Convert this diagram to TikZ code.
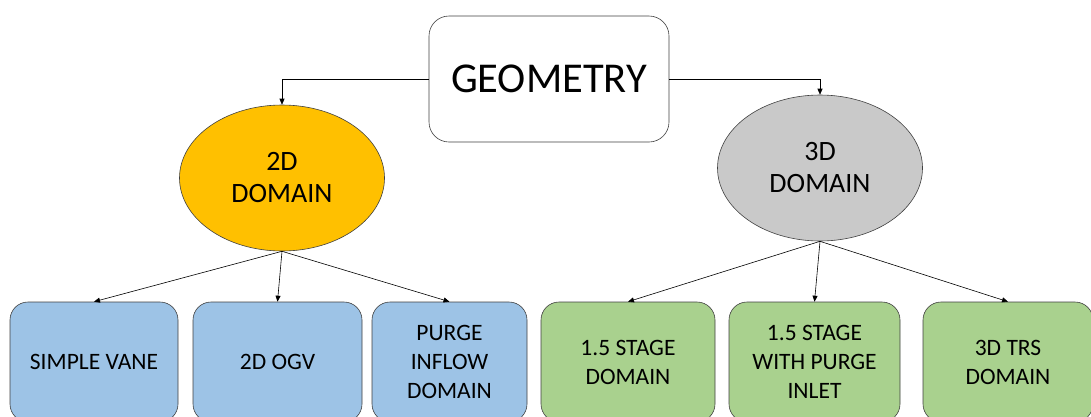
\documentclass[tikz,border=0pt]{standalone}
\usepackage{fontspec}
\setmainfont{Carlito}
\usetikzlibrary{shapes.geometric, arrows.meta}

\begin{document}
\begin{tikzpicture}[
    x = 1pt, y = -1pt,
    line width = 0.6pt,
    >={Triangle[length=6pt, width=5pt]},
    %
    root/.style = {draw = black!75, fill = white,
      rounded corners = 20pt,
      font = \fontsize{42.5}{48}\selectfont,
      minimum width = 240pt, minimum height = 126pt},
    %
    region/.style = {ellipse, draw = black!75, inner sep = 0pt,
      align = center,
      font = \fontsize{28}{32}\selectfont,
      minimum width = 205pt, minimum height = 146pt},
    %
    case/.style = {draw = black!75, rounded corners = 18pt,
      align = center, inner sep = 0pt,
      font = \fontsize{23.5}{29}\selectfont,
      minimum height = 120pt},
    %
    flat/.style = {fill = {rgb,255:red,255;green,192;blue,0}},
    solid3d/.style = {fill = {rgb,255:red,201;green,201;blue,201}},
    flatcase/.style = {case, fill = {rgb,255:red,157;green,195;blue,230}},
    solidcase/.style = {case, fill = {rgb,255:red,169;green,209;blue,142}},
    ]

    \clip (0, 0) rectangle (1091, 416);

    \node at (549, 79)
    [root, name = geo] {GEOMETRY};

    \node at (282, 178)
    [region, flat, name = D2] {2D\\DOMAIN};
    \node at (820, 168)
    [region, solid3d, name = D3] {3D\\DOMAIN};

    % 2D cases
    \node at (94, 362)
    [flatcase, minimum width = 168pt, name = vane] {SIMPLE VANE};
    \node at (277.5, 362)
    [flatcase, minimum width = 169pt, name = ogv] {2D OGV};
    \node at (449.5, 362)
    [flatcase, minimum width = 155pt, name = purge] {PURGE\\INFLOW\\DOMAIN};

    % 3D cases
    \node at (628, 362)
    [solidcase, minimum width = 174pt, name = stage] {1.5 STAGE\\DOMAIN};
    \node at (814.5, 362)
    [solidcase, minimum width = 171pt, name = stagep] {1.5 STAGE\\WITH PURGE\\INLET};
    \node at (1008, 362)
    [solidcase, minimum width = 170pt, name = trs] {3D TRS\\DOMAIN};

    \draw [->] (geo) -| (D2);
    \draw [->] (geo) -| (D3);

    \draw [->] (D2.south) to (vane.north);
    \draw [->] (D2.south) to (ogv.north);
    \draw [->] (D2.south) to (purge.north);

    \draw [->] (D3.south) to (stage.north);
    \draw [->] (D3.south) to (stagep.north);
    \draw [->] (D3.south) to (trs.north);

\end{tikzpicture}
\end{document}
